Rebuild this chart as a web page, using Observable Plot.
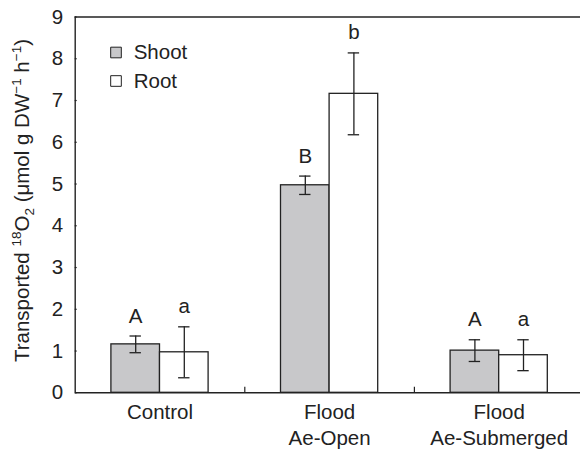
<!DOCTYPE html>
<html>
<head>
<meta charset="utf-8">
<script src="https://cdn.jsdelivr.net/npm/d3@7"></script>
<script src="https://cdn.jsdelivr.net/npm/@observablehq/plot@0.6"></script>
<style>
  html, body { margin: 0; padding: 0; background: #fff; }
</style>
</head>
<body>
<div id="chart"></div>
<script>
// ---- data ----
const categories = ["Control", "Flood\nAe-Open", "Flood\nAe-Submerged"];
const series = ["Shoot", "Root"];
const shootMean = [1.16, 4.97, 1.01];
const shootErr = [0.20, 0.22, 0.26];
const rootMean = [0.97, 7.16, 0.90];
const rootErr = [0.61, 0.98, 0.37];
const shootLetters = ["A", "B", "A"];
const rootLetters = ["a", "b", "a"];
const yTicks = [0, 1, 2, 3, 4, 5, 6, 7, 8, 9];

// ---- layout / style ----
const W = 580, H = 451;
const mTop = 16.5, mBottom = 58.7;
const xRange = [74.7, 583.5];
const xDomain = [-0.5, categories.length - 0.5];
const yDomain = [0, 9];
const frameW = xRange[1] - xRange[0];
const frameH = H - mTop - mBottom;
const pxPerX = frameW / (xDomain[1] - xDomain[0]);
const barW = 48.6 / pxPerX;       // bar width in x units
const capHalf = 5.7 / pxPerX;     // half width of error caps
const tickLen = 5.5;
const ink = "#222";
const fills = {Shoot: "#c8c8ca", Root: "#ffffff"};
const font = "'Liberation Sans', Arial, Helvetica, sans-serif";

const rows = [];
categories.forEach((c, i) => {
  rows.push({cat: c, i, series: "Shoot", v: shootMean[i], e: shootErr[i], letter: shootLetters[i], x1: i - barW, x2: i, xc: i - barW / 2});
  rows.push({cat: c, i, series: "Root", v: rootMean[i], e: rootErr[i], letter: rootLetters[i], x1: i, x2: i + barW, xc: i + barW / 2});
});
const separators = d3.range(0.5, categories.length - 0.5, 1);

const legendMarks = series.flatMap((s, k) => [
  Plot.dot([s], {frameAnchor: "top-left", dx: 40.8, dy: 35.5 + k * 28.5, symbol: "square", r: 6,
    fill: fills[s], stroke: ink, strokeWidth: 1}),
  Plot.text([s], {frameAnchor: "top-left", dx: 58.5, dy: 35.5 + k * 28.5, text: d => d,
    textAnchor: "start", lineAnchor: "middle", fontSize: 20.5, fill: ink})
]);

const svg = Plot.plot({
  width: W,
  height: H,
  marginLeft: xRange[0],
  marginRight: 0,
  marginTop: mTop,
  marginBottom: mBottom,
  style: {fontFamily: font, fontSize: "20.5px", color: ink, background: "#fff", overflow: "hidden"},
  x: {domain: xDomain, range: xRange},
  y: {domain: yDomain},
  marks: [
    Plot.rectY(rows, {x1: "x1", x2: "x2", y: "v", fill: d => fills[d.series], stroke: ink, strokeWidth: 1.3}),
    Plot.ruleX(rows, {x: "xc", y1: d => d.v - d.e, y2: d => d.v + d.e, stroke: ink, strokeWidth: 1.3}),
    Plot.ruleY(rows, {y: d => d.v + d.e, x1: d => d.xc - capHalf, x2: d => d.xc + capHalf, stroke: ink, strokeWidth: 1.3}),
    Plot.ruleY(rows, {y: d => d.v - d.e, x1: d => d.xc - capHalf, x2: d => d.xc + capHalf, stroke: ink, strokeWidth: 1.3}),
    Plot.text(rows, {x: "xc", y: d => d.v + d.e, text: "letter", dy: -20, lineAnchor: "middle", fontSize: 20.5, fill: ink}),
    // inward ticks
    Plot.tickY(yTicks, {y: d => d, insetRight: frameW - tickLen, stroke: ink, strokeWidth: 1.2}),
    Plot.tickX(separators, {x: d => d, insetTop: frameH - tickLen, stroke: ink, strokeWidth: 1.2}),
    // frame lines
    Plot.ruleX([xDomain[0]], {stroke: ink, strokeWidth: 1.4}),
    Plot.ruleY([yDomain[0]], {stroke: ink, strokeWidth: 1.4}),
    Plot.ruleY([yDomain[1]], {stroke: ink, strokeWidth: 1.4}),
    // axis labels
    Plot.axisY(yTicks, {tickSize: 0, tickPadding: 12, label: null, fill: ink}),
    Plot.axisX(categories.map((c, i) => i), {tickSize: 0, tickPadding: 8, tickFormat: i => categories[i], lineHeight: 1.27, label: null, fill: ink}),
    ...legendMarks
  ]
});

// y-axis title with super/subscripts
const s = d3.select(svg);
const t = s.append("text")
  .attr("transform", "translate(29.3,200.5) rotate(-90)")
  .attr("text-anchor", "middle")
  .attr("fill", ink)
  .style("font-family", font)
  .style("font-size", "20.5px");
t.append("tspan").text("Transported ");
t.append("tspan").attr("dy", -8).style("font-size", "13.5px").text("18");
t.append("tspan").attr("dy", 8).text("O");
t.append("tspan").attr("dy", 5).style("font-size", "13.5px").text("2");
t.append("tspan").attr("dy", -5).text(" (\u03bcmol g DW");
t.append("tspan").attr("dy", -8).style("font-size", "13.5px").text("\u22121");
t.append("tspan").attr("dy", 8).text(" h");
t.append("tspan").attr("dy", -8).style("font-size", "13.5px").text("\u22121");
t.append("tspan").attr("dy", 8).text(")");

document.getElementById("chart").appendChild(svg);
</script>
</body>
</html>
